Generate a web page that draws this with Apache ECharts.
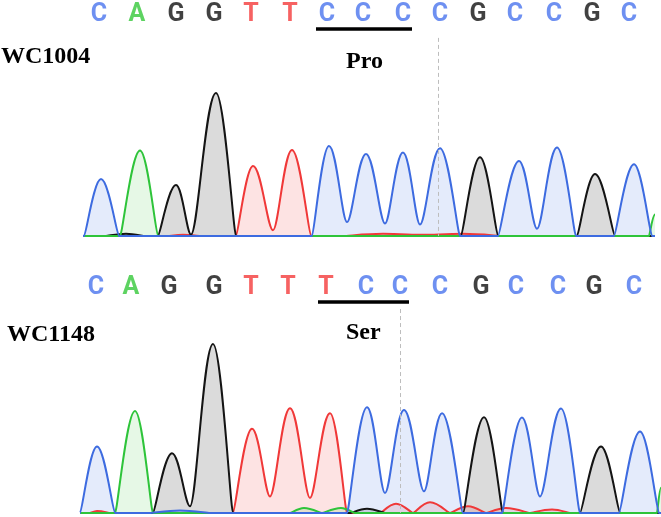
<!DOCTYPE html>
<html>
<head>
<meta charset="utf-8">
<script src="https://cdn.jsdelivr.net/npm/echarts@6/dist/echarts.min.js"></script>
<style>
  html, body { margin: 0; padding: 0; background: #fff; }
  #chart { width: 661px; height: 517px; }
</style>
</head>
<body>
<div id="chart"></div>
<script>
// base calls and their scan positions
const topCalls = ['C','A','G','G','T','T','C','C','C','C','G','C','C','G','C'];
const topCallPos = [16, 54, 93, 131, 168, 207, 244, 280, 320, 357, 395, 432, 471, 509, 546];
const botCalls = ['C','A','G','G','T','T','T','C','C','C','G','C','C','G','C'];
const botCallPos = [16, 51, 89, 134, 171, 208, 246, 286, 320, 360, 401, 436, 478, 514, 554];

// trace key points [scan, signal] per dye
const topC = [[0,0],[1,0],[18,39.8],[36,0],[229,0],[246,63],[264,9.8],[283,57.4],[302,8.7],[320,58.3],[337,8],[357,61.4],[377,0],[415,0],[436,52.5],[454,5],[474,61.8],[493,0],[531,0],[551,50.1],[569,0],[572,0]];
const topA = [[0,0],[37,0],[57,59.7],[75,0],[566,0],[572,15]];
const topG = [[0,0],[23,0],[43,1.6],[62,0],[75,0],[93,35.6],[108,1],[133,100],[153,0],[378,0],[397,55],[415,0],[494,0],[512,43.3],[532,0],[572,0]];
const topT = [[0,0],[85,0],[100,0.8],[118,0],[153,0],[170,48.9],[190,4],[209,60.2],[228,0],[260,0],[300,1.5],[340,0.8],[380,1.5],[420,0],[572,0]];

const botC = [[0,0],[17,39.4],[35,0],[70,0],[100,1.5],[130,0],[267,0],[287,62.6],[305,11.8],[324,61],[344,12.8],[362,59.1],[383,0],[422,0],[442,56.5],[460,9.8],[481,61.8],[500,0],[539,0],[560,48.2],[579,0],[581,0]];
const botA = [[0,0],[35,0],[55,60.4],[73,0],[210,0],[224,3],[242,0],[261,3],[275,0],[577,0],[581,15]];
const botG = [[0,0],[73,0],[92,35.4],[110,4],[133,100],[153,0],[270,0],[287,2.5],[305,0],[383,0],[404,56.7],[423,0],[500,0],[521,39.4],[540,0],[581,0]];
const botT = [[0,0],[10,0],[17,1.2],[30,0],[153,0],[172,49.8],[190,9.8],[210,62],[230,8.9],[250,59.1],[267,0],[300,0],[316,5.5],[333,0],[350,6.3],[370,0],[388,4],[406,0],[426,3],[450,0],[472,2],[490,0],[581,0]];

// codon underline span and the dashed marker position
const topCodon = [233, 329];
const botCodon = [238, 329];
const topMark = 355;
const botMark = 320;

const dye = {
    C: { line: '#3d6be0', text: '#4a74ee', fill: 'rgba(90,130,230,0.16)' },
    A: { line: '#2ec43a', text: '#35c83a', fill: 'rgba(60,200,60,0.13)' },
    G: { line: '#141414', text: '#111111', fill: 'rgba(0,0,0,0.14)' },
    T: { line: '#f03838', text: '#f43b3b', fill: 'rgba(240,60,60,0.14)' }
};

const myChart = echarts.init(document.getElementById('chart'));

// draw one dye trace: curve through the key points, filled to the baseline
function traceSeries(pts, base, gridIdx) {
    return {
        type: 'custom',
        xAxisIndex: gridIdx,
        yAxisIndex: gridIdx,
        data: pts,
        renderItem: function (params, api) {
            if (params.dataIndex !== 0) return;
            const p = pts.map(d => api.coord(d));
            let d = 'M' + p[0][0] + ' ' + p[0][1];
            for (let i = 1; i < p.length; i++) {
                const a = p[i - 1], b = p[i];
                const dx = b[0] - a[0];
                const va = pts[i - 1][1], vb = pts[i][1];
                if (va === vb) {
                    d += ' L' + b[0] + ' ' + b[1];
                    continue;
                }
                // handle length: short at a foot, medium in a valley, long at a peak
                const low = v => (v === 0 ? 0.12 : 0.28);
                const ka = va < vb ? low(va) : 0.42;
                const kb = va < vb ? 0.42 : low(vb);
                d += ' C' + (a[0] + ka * dx) + ' ' + a[1] + ' ' + (b[0] - kb * dx) + ' ' + b[1] + ' ' + b[0] + ' ' + b[1];
            }
            const y0 = api.coord([0, 0])[1];
            const fillPath = d + ' L' + p[p.length - 1][0] + ' ' + y0 + ' L' + p[0][0] + ' ' + y0 + ' Z';
            return {
                type: 'group',
                children: [
                    { type: 'path', z2: 0, shape: { pathData: fillPath }, style: { fill: dye[base].fill, stroke: null } },
                    { type: 'path', z2: 10, shape: { pathData: d }, style: { fill: null, stroke: dye[base].line, lineWidth: 2 } }
                ]
            };
        }
    };
}

function callSeries(calls, pos, yLevel, gridIdx, codon, yLine, mark, yMark) {
    return {
        type: 'scatter',
        xAxisIndex: gridIdx,
        yAxisIndex: gridIdx,
        symbolSize: 0,
        data: calls.map((b, i) => ({
            value: [pos[i], yLevel],
            base: b,
            label: { color: dye[b].text }
        })),
        label: {
            show: true,
            position: 'inside',
            formatter: p => p.data.base,
            fontFamily: 'Roboto',
            fontWeight: 'bold',
            fontSize: 25
        },
        markLine: {
            silent: true,
            symbol: ['none', 'none'],
            label: { show: false },
            data: [
                [{ coord: [codon[0], yLine], lineStyle: { color: '#000', width: 3.5, type: 'solid' } },
                 { coord: [codon[1], yLine] }],
                [{ coord: [mark, yMark], lineStyle: { color: '#bdbdbd', width: 1, type: [4, 3] } },
                 { coord: [mark, 0] }]
            ]
        }
    };
}

const option = {
    animation: false,
    grid: [
        { left: 83, top: 0, width: 572, height: 236 },
        { left: 80, top: 246, width: 581, height: 267 }
    ],
    xAxis: [
        { type: 'value', gridIndex: 0, min: 0, max: 572, show: false },
        { type: 'value', gridIndex: 1, min: 0, max: 581, show: false }
    ],
    yAxis: [
        { type: 'value', gridIndex: 0, min: 0, max: 165, show: false },
        { type: 'value', gridIndex: 1, min: 0, max: 158, show: false }
    ],
    graphic: [
        { type: 'text', left: 1, top: 45, style: { text: 'WC1004', font: "bold 24px 'Liberation Serif'", fill: '#000' } },
        { type: 'text', left: 346, top: 50, style: { text: 'Pro', font: "bold 24px 'Liberation Serif'", fill: '#000' } },
        { type: 'text', left: 7, top: 323, style: { text: 'WC1148', font: "bold 24px 'Liberation Serif'", fill: '#000' } },
        { type: 'text', left: 346, top: 321, style: { text: 'Ser', font: "bold 24px 'Liberation Serif'", fill: '#000' } }
    ],
    series: [
        traceSeries(topT, 'T', 0),
        traceSeries(topG, 'G', 0),
        traceSeries(topA, 'A', 0),
        traceSeries(topC, 'C', 0),
        callSeries(topCalls, topCallPos, 155, 0, topCodon, 144.7, topMark, 138.5),
        traceSeries(botT, 'T', 1),
        traceSeries(botG, 'G', 1),
        traceSeries(botA, 'A', 1),
        traceSeries(botC, 'C', 1),
        callSeries(botCalls, botCallPos, 133, 1, botCodon, 125, botMark, 120.7)
    ]
};

myChart.setOption(option);
</script>
</body>
</html>
